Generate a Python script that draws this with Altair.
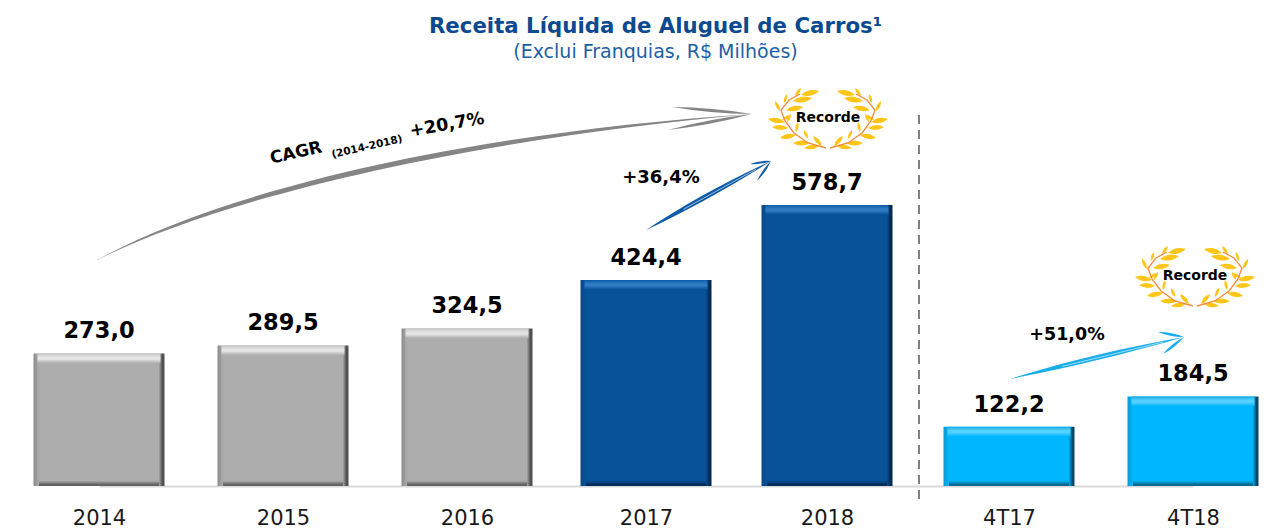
import altair as alt
import pandas as pd

# ---- chart values ----
categories = ["2014", "2015", "2016", "2017", "2018", "4T17", "4T18"]
values = [273.0, 289.5, 324.5, 424.4, 578.7, 122.2, 184.5]
labels = ["273,0", "289,5", "324,5", "424,4", "578,7", "122,2", "184,5"]
groups = ["hist", "hist", "hist", "recent", "recent", "quarter", "quarter"]

title_text = "Receita Líquida de Aluguel de Carros¹"
subtitle_text = "(Exclui Franquias, R$ Milhões)"

# ---- layout ----
OX, OY = 8, 70            # plot origin in page pixels
PLOT_W, PLOT_H = 1253, 416
PX_PER_UNIT = 0.4856
BAR_W = 131
centers_px = [99, 283, 467, 646, 827, 1009, 1193]
x_range = [c - OX for c in centers_px]
slots = list(range(len(categories)))
y_scale = alt.Scale(domain=[0, PLOT_H / PX_PER_UNIT], range=[PLOT_H, 0], nice=False, zero=False)
x_scale = alt.Scale(domain=slots, range=x_range, nice=False, zero=False, padding=0)
FONT = "DejaVu Sans"

df = pd.DataFrame({"slot": slots, "cat": categories, "v": values, "label": labels, "group": groups})

palette = {
    "hist":    dict(face="#ADADAD", left="#8A8A8A", right="#505050", bottom="#626262", top="#C4C4C4", hi="#E4E4E4"),
    "recent":  dict(face="#075299", left="#0A4886", right="#042A50", bottom="#042C56", top="#0A5AA8", hi="#2F7CC2"),
    "quarter": dict(face="#00B7FF", left="#0B9AD0", right="#0A4865", bottom="#0A678C", top="#12A8E0", hi="#55D2FF"),
}


def grad(stops, horizontal=False):
    return alt.LinearGradient(
        gradient="linear",
        x1=0, y1=0,
        x2=1 if horizontal else 0,
        y2=0 if horizontal else 1,
        stops=[alt.GradientStop(offset=o, color=c) for o, c in stops],
    )


label_expr = "[" + ",".join(f"'{c}'" for c in categories) + "][datum.value]"
X = alt.X(
    "slot:Q", scale=x_scale, title=None,
    axis=alt.Axis(
        values=slots, labelExpr=label_expr, labelFlush=False, labelBound=False,
        labelAngle=0, labelFont=FONT, labelFontSize=21, labelColor="#1A1A1A", labelPadding=21,
        ticks=False, domainColor="#DADADA", domainWidth=2, grid=False, labelOverlap=False,
    ),
)
layers = []
for name, p in palette.items():
    sub = df[df.group == name]
    base = alt.Chart(sub).mark_bar(
        width=BAR_W,
        color=grad([(0, p["left"]), (0.045, p["face"]), (0.955, p["face"]), (0.985, p["right"]), (1, p["right"])], True),
    ).encode(x=X, y=alt.Y("v:Q", scale=y_scale, axis=None), y2=alt.Y2(datum=0))
    bottom = alt.Chart(sub).transform_calculate(b1="11", b0="0").mark_bar(
        width=BAR_W - 11,
        color=grad([(0, p["face"]), (0.75, p["bottom"]), (1, p["bottom"])]),
    ).encode(x=X, y=alt.Y("b1:Q", scale=y_scale, axis=None), y2="b0:Q")
    top = alt.Chart(sub).transform_calculate(t2="datum.v - 20").mark_bar(
        width=BAR_W - 8,
        color=grad([(0, p["top"]), (0.4, p["hi"]), (0.6, p["hi"]), (1, p["face"])]),
    ).encode(x=X, y=alt.Y("v:Q", scale=y_scale, axis=None), y2="t2:Q")
    layers += [base, bottom, top]

value_text = alt.Chart(df).mark_text(
    font=FONT, fontSize=22.5, fontWeight="bold", color="#000000", baseline="alphabetic", dy=-15
).encode(x=X, y=alt.Y("v:Q", scale=y_scale, axis=None), text="label:N")

one = pd.DataFrame({"k": [0]})


def fill_path(path, color):
    return alt.Chart(one).mark_point(
        shape=path, size=4, filled=True, fill=color, opacity=1, strokeWidth=0
    ).encode(x=alt.value(0), y=alt.value(0))


def line_path(path, color, width):
    return alt.Chart(one).mark_point(
        shape=path, size=4, filled=False, stroke=color, strokeWidth=width, opacity=1
    ).encode(x=alt.value(0), y=alt.value(0))


def fmt(px, py):
    return f"{px - OX:.1f} {py - OY:.1f}"


def arrow(tail, c1, c2, tip, barb_a, barb_b, w, barb_w):
    dx, dy = tip[0] - tail[0], tip[1] - tail[1]
    n = (dx * dx + dy * dy) ** 0.5
    nx, ny = -dy / n * w, dx / n * w
    u1 = (c1[0] - nx, c1[1] - ny)
    u2 = (c2[0] - nx, c2[1] - ny)
    l1 = (c1[0] + nx, c1[1] + ny)
    l2 = (c2[0] + nx, c2[1] + ny)
    body = f"M{fmt(*tail)} C{fmt(*u1)} {fmt(*u2)} {fmt(*tip)} C{fmt(*l2)} {fmt(*l1)} {fmt(*tail)} Z "

    def barb(b):
        m1 = (b[0] * 0.5 + tip[0] * 0.5, b[1] * 0.5 + tip[1] * 0.5)
        bl = ((tip[0] - b[0]) ** 2 + (tip[1] - b[1]) ** 2) ** 0.5
        off = ((tip[1] - b[1]) / bl * barb_w, (b[0] - tip[0]) / bl * barb_w)
        a = (m1[0] + off[0], m1[1] + off[1])
        c = (m1[0] - off[0], m1[1] - off[1])
        return f"M{fmt(*b)} Q{fmt(*a)} {fmt(*tip)} Q{fmt(*c)} {fmt(*b)} Z "

    return body + barb(barb_a) + barb(barb_b)


def chord(a, b, t0=0.3, t1=0.88):
    pa = (a[0] + (b[0] - a[0]) * t0, a[1] + (b[1] - a[1]) * t0)
    pb = (a[0] + (b[0] - a[0]) * t1, a[1] + (b[1] - a[1]) * t1)
    return f"M{fmt(*pa)} L{fmt(*pb)}"


gray_arrow = arrow((97, 260), (230, 190), (480, 135), (752, 114), (672, 107), (668, 130), 3.4, 3.2)
blue_arrow = arrow((646, 230), (685, 208), (725, 186), (771, 161), (750, 164), (757, 181), 3.4, 2.4)
cyan_arrow = arrow((1010, 379), (1065, 365), (1120, 352), (1184, 337), (1158, 332), (1163, 354), 3.4, 2.8)

layers_deco = [
    fill_path(gray_arrow, "#858585"),
    fill_path(blue_arrow, "#0F5CA6"),
    line_path(chord((646, 230), (771, 161)), "#FFFFFF", 0.6),
    fill_path(cyan_arrow, "#18ADEB"),
    line_path(chord((1010, 379), (1184, 337)), "#FFFFFF", 0.6),
]

# laurel drawn from leaves: base and tip, offsets from the wreath centre (right half)
leaves = [
    (27, -24, 9, -28), (33, -23, 27, -31), (35, -18, 16, -21), (44, -16, 41, -25),
    (42, -9, 25, -12), (48, -8, 53, -18), (46, 1, 37, -4), (43, 3, 60, 0),
    (41, 3, 37, -5), (40, 9, 56, 8), (32, 13, 30, 3), (32, 16, 48, 19),
    (20, 20, 24, 11), (18, 24, 35, 24), (6, 27, 15, 17), (9, 27, 24, 29),
]
stem = [(2, 29), (20, 24), (34, 14), (43, 2), (47, -9), (39, -19), (28, -25)]


def laurel_paths(cx, cy):
    leaf_d, stem_d = "", ""
    for sgn in (1, -1):
        for bx, by, tx, ty in leaves:
            b = (cx + sgn * bx, cy + by)
            t = (cx + sgn * tx, cy + ty)
            mx, my = (b[0] + t[0]) / 2, (b[1] + t[1]) / 2
            ox, oy = -(t[1] - b[1]) * 0.3, (t[0] - b[0]) * 0.3
            leaf_d += (
                f"M{fmt(*b)} Q{fmt(mx + ox, my + oy)} {fmt(*t)} "
                f"Q{fmt(mx - ox, my - oy)} {fmt(*b)} Z "
            )
        pts = [(cx + sgn * x, cy + y) for x, y in stem]
        stem_d += f"M{fmt(*pts[0])} " + " ".join(f"L{fmt(*q)}" for q in pts[1:]) + " "
    return leaf_d, stem_d


laurel_centres = [(828, 119), (1195, 277)]
for cx, cy in laurel_centres:
    leaf_d, stem_d = laurel_paths(cx, cy)
    layers_deco.append(fill_path(leaf_d, "#FFC61A"))
    layers_deco.append(line_path(stem_d, "#F58B3E", 1.3))


def note(text, px, py, size, angle=0, weight="bold", color="#000000"):
    return alt.Chart(one).mark_text(
        text=text, font=FONT, fontSize=size, fontWeight=weight, color=color,
        align="center", baseline="middle", angle=angle,
    ).encode(x=alt.value(px - OX), y=alt.value(py - OY))


notes = [
    note("CAGR", 296, 153, 17, 347),
    note("(2014-2018)", 367, 147, 10.5, 347),
    note("+20,7%", 447, 125, 17.5, 350),
    note("+36,4%", 661, 178, 18),
    note("+51,0%", 1067, 335, 17.5),
]
for cx, cy in laurel_centres:
    notes.append(note("Recorde", cx, cy - 1, 14))

divider = alt.Chart(one).mark_rule(
    color="#808080", strokeWidth=2, strokeDash=[9, 6]
).encode(x=alt.value(919 - OX), y=alt.value(115 - OY), y2=alt.value(500 - OY))

chart = alt.layer(
    *layers, value_text, divider, *layers_deco, *notes
).properties(
    width=PLOT_W,
    height=PLOT_H,
    padding={"left": 0, "top": OY - 8, "right": 0, "bottom": 43},
    autosize=alt.AutoSizeParams(type="none"),
    background="#FFFFFF",
    title=alt.TitleParams(
        text=title_text, subtitle=subtitle_text, anchor="middle", dx=21, offset=8,
        font=FONT, fontSize=21.3, fontWeight="bold", color="#0B4A8F",
        subtitleFont=FONT, subtitleFontSize=19, subtitleColor="#1C5FA8", subtitlePadding=6,
    ),
).configure_view(stroke=None)

chart.save("out.html", embed_options={"renderer": "svg", "actions": False})
